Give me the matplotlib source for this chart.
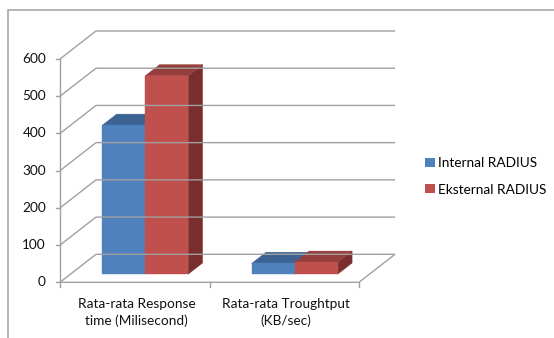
import matplotlib
matplotlib.use("Agg")
import matplotlib.pyplot as plt
from matplotlib.patches import Patch, Rectangle
import numpy as np

# ---- data ----
categories = ["Rata-rata Response\ntime (Milisecond)", "Rata-rata Troughtput\n(KB/sec)"]
series_names = ["Internal RADIUS", "Eksternal RADIUS"]
internal_vals = [400, 29]
eksternal_vals = [533, 32]
yticks = [0, 100, 200, 300, 400, 500, 600]

front_cols = ["#4F81BD", "#C0504D"]
top_cols = ["#3C6394", "#963E3C"]
side_cols = ["#30507A", "#7A2F2E"]
grid_col = "#A0A0A0"

plt.rcParams['font.family'] = ['Lato', 'DejaVu Sans']
FS = 9.8

W, H = 554, 338
fig = plt.figure(figsize=(W / 100, H / 100), dpi=100)

# pixel geometry of the projection
x0_px, y0_px = 60.0, 282.3        # front-left-bottom corner (top-origin pixels)
cat_px = 149.5                    # px per category
val_px = 223.3 / 600.0            # px per value unit
depth_dx_px, depth_dy_px = 36.0, 28.0

ax = fig.add_axes([0, 0, 1, 1])
ax.set_xlim(-x0_px / cat_px, (W - x0_px) / cat_px)
ax.set_ylim(-(H - y0_px) / val_px, y0_px / val_px)
ax.axis("off")

DX = depth_dx_px / cat_px
DY = depth_dy_px / val_px
ncat = len(categories)
vmax = yticks[-1]


def P(c, v, d):
    return (c + DX * d, v + DY * d)


def line(pts, **kw):
    xs, ys = zip(*pts)
    ax.plot(xs, ys, color=grid_col, lw=1.0, solid_capstyle="butt", clip_on=False, **kw)


# walls: gridlines on back wall and left wall
for v in yticks:
    line([P(0, v, 0), P(0, v, 1), P(ncat, v, 1)])
# front vertical axis
line([P(0, 0, 0), P(0, vmax, 0)])
# floor front and right edges
line([P(0, 0, 0), P(ncat, 0, 0), P(ncat, 0, 1)])
# value ticks
tick_c = 4.0 / cat_px
for v in yticks:
    ax.plot([-tick_c, 0], [v, v], color=grid_col, lw=1.0, clip_on=False)
    ax.text(-14.0 / cat_px, v, str(v), ha="right", va="center", fontsize=FS, color="#111111")
# category ticks
tick_v = 5.0 / val_px
for c in range(ncat + 1):
    ax.plot([c, c], [0, -tick_v], color=grid_col, lw=1.0, clip_on=False)
for i, lab in enumerate(categories):
    ax.text(i + 0.5 + 2 / cat_px, -30.0 / val_px, lab, ha="center", va="center",
            fontsize=FS, linespacing=1.45, color="#111111")

# bars
bar_w = 43.0 / cat_px
d0, d1 = 0.29, 0.69
vals = [internal_vals, eksternal_vals]
for i in range(ncat):
    left = i + 0.5 - bar_w
    for s in range(len(series_names)):
        xl = left + s * bar_w
        xr = xl + bar_w
        v = vals[s][i]
        front = [P(xl, 0, d0), P(xr, 0, d0), P(xr, v, d0), P(xl, v, d0)]
        top = [P(xl, v, d0), P(xr, v, d0), P(xr, v, d1), P(xl, v, d1)]
        side = [P(xr, 0, d0), P(xr, 0, d1), P(xr, v, d1), P(xr, v, d0)]
        for poly, col in ((side, side_cols[s]), (top, top_cols[s]), (front, front_cols[s])):
            xs, ys = zip(*poly)
            ax.fill(xs, ys, color=col, lw=0.3, ec=col, clip_on=False)

# legend
handles = [Patch(facecolor=front_cols[k], edgecolor="none") for k in range(2)]
fig.legend(handles, series_names, loc="center left",
           bbox_to_anchor=(425.0 / W, 1 - 176.5 / H), frameon=False, fontsize=FS,
           handlelength=0.75, handleheight=0.62, handletextpad=0.22,
           labelspacing=1.05, borderpad=0, borderaxespad=0)

# outer border
fig.add_artist(Rectangle((8.3 / W, -0.1), 1.2, (H - 9.7) / H + 0.1,
                         transform=fig.transFigure, fill=False, ec=grid_col, lw=1.1))

fig.savefig("out.png", dpi=100)
